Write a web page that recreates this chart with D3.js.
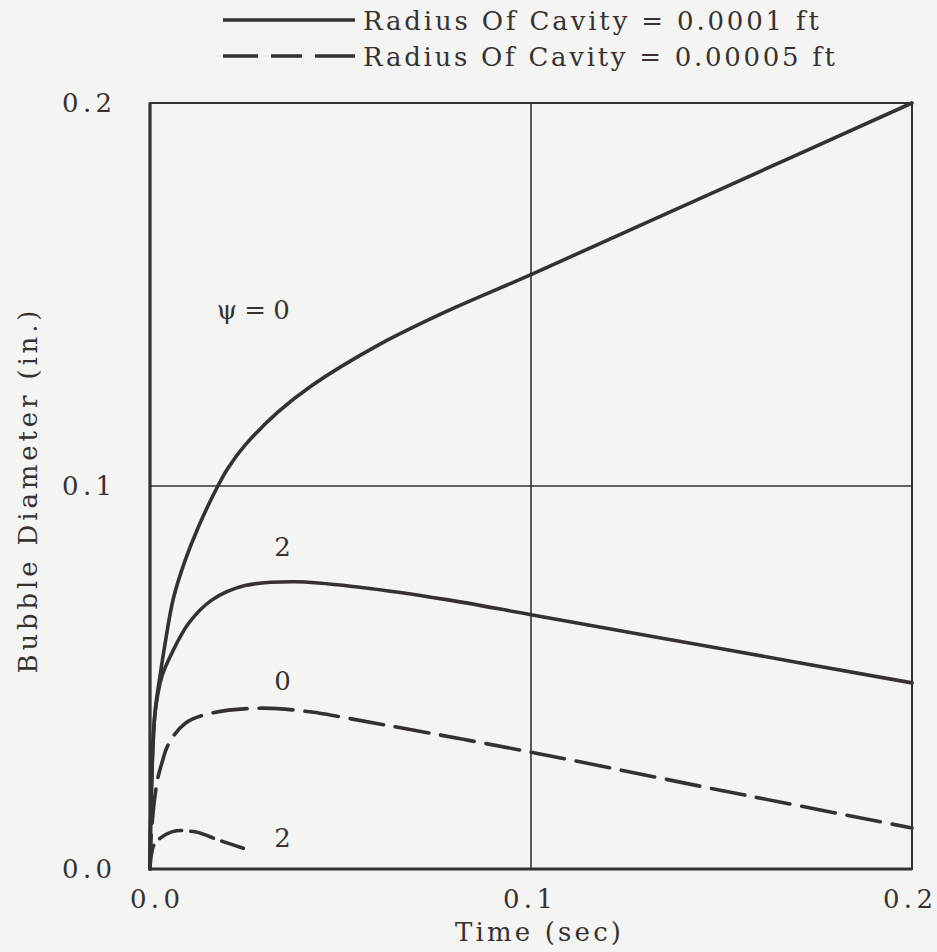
<!DOCTYPE html>
<html>
<head>
<meta charset="utf-8">
<script src="https://d3js.org/d3.v7.min.js"></script>
<style>
  body { margin: 0; background: #f4f4f2; }
  #chart text { font-family: "DejaVu Serif", serif; fill: #363232; font-size: 26px; }
</style>
</head>
<body>
<div id="chart"></div>
<script>
  // curves: time (sec) vs bubble diameter (in.)
  var timeA = [0, 0.0003, 0.0013, 0.0026, 0.0039, 0.0061, 0.0092, 0.0127, 0.0175, 0.0205, 0.0249, 0.0337, 0.0424, 0.0599, 0.0774, 0.1, 0.15, 0.2];
  var diaA  = [0, 0.018, 0.0407, 0.0502, 0.0585, 0.0705, 0.0805, 0.0893, 0.0994, 0.1047, 0.1106, 0.1194, 0.1262, 0.1368, 0.1454, 0.1552, 0.1776, 0.2];

  var timeB = [0, 0.0003, 0.0013, 0.0031, 0.0057, 0.0101, 0.0162, 0.0249, 0.038, 0.0555, 0.0774, 0.1, 0.15, 0.2];
  var diaB  = [0, 0.018, 0.0405, 0.0502, 0.0563, 0.0641, 0.0702, 0.0740, 0.075, 0.0735, 0.0704, 0.0664, 0.0575, 0.0486];

  var timeC = [0, 0.0004, 0.0018, 0.0031, 0.0048, 0.0092, 0.0162, 0.0293, 0.0424, 0.0512, 0.1, 0.15, 0.2];
  var diaC  = [0, 0.01, 0.0224, 0.0276, 0.0325, 0.038, 0.0407, 0.042, 0.041, 0.0395, 0.0305, 0.0205, 0.0107];

  var timeD = [0, 0.0004, 0.0013, 0.0057, 0.0118, 0.0179, 0.0245];
  var diaD  = [0, 0.004, 0.0067, 0.0097, 0.0097, 0.0076, 0.0054];

  var xTicks = [0, 0.1, 0.2];
  var yTicks = [0, 0.1, 0.2];
  var legendLabels = ["Radius Of Cavity = 0.0001 ft", "Radius Of Cavity = 0.00005 ft"];
  var curveLabels = [
    { t: 0.0271, d: 0.1436, text: "\u03c8 = 0", len: 73 },
    { t: 0.0348, d: 0.0818, text: "2" },
    { t: 0.0348, d: 0.0467, text: "0" },
    { t: 0.0348, d: 0.0057, text: "2" }
  ];

  var W = 937, H = 952;
  var margin = { top: 103, right: 25, bottom: 83, left: 150 };
  var width = W - margin.left - margin.right,
      height = H - margin.top - margin.bottom;
  var ink = "#353131";

  var svg = d3.select("#chart").append("svg")
      .attr("width", W).attr("height", H);
  svg.append("rect").attr("width", W).attr("height", H).attr("fill", "#f4f4f2");

  var g = svg.append("g")
      .attr("transform", "translate(" + margin.left + "," + margin.top + ")");

  var x = d3.scaleLinear().domain([0, 0.2]).range([0, width]);
  var y = d3.scaleLinear().domain([0, 0.2]).range([height, 0]);

  // grid lines
  g.selectAll(".vgrid").data([0.1]).enter().append("line")
      .attr("x1", x).attr("x2", x).attr("y1", 0).attr("y2", height)
      .attr("stroke", ink).attr("stroke-width", 1.6);
  g.selectAll(".hgrid").data([0.1]).enter().append("line")
      .attr("x1", 0).attr("x2", width).attr("y1", y).attr("y2", y)
      .attr("stroke", ink).attr("stroke-width", 1.6);

  // frame
  g.append("rect").attr("width", width).attr("height", height)
      .attr("fill", "none").attr("stroke", ink).attr("stroke-width", 2);
  g.append("line").attr("x1", 0).attr("x2", 0).attr("y1", 0).attr("y2", height)
      .attr("stroke", ink).attr("stroke-width", 3.2);
  g.append("line").attr("x1", 0).attr("x2", width).attr("y1", height).attr("y2", height)
      .attr("stroke", ink).attr("stroke-width", 3.2);

  // tick labels
  g.selectAll(".ytl").data(yTicks).enter().append("text")
      .attr("x", -38).attr("y", function(d) { return y(d) + 9; })
      .attr("text-anchor", "end")
      .attr("textLength", 50).attr("lengthAdjust", "spacing")
      .text(function(d) { return d3.format(".1f")(d); });
  g.selectAll(".xtl").data(xTicks).enter().append("text")
      .attr("x", function(d, i) { return x(d) + [5, -3, -4][i]; })
      .attr("y", height + 39)
      .attr("text-anchor", "middle")
      .attr("textLength", 50).attr("lengthAdjust", "spacing")
      .text(function(d) { return d3.format(".1f")(d); });

  // axis titles
  g.append("text")
      .attr("x", width / 2 + 7).attr("y", height + 72)
      .attr("text-anchor", "middle")
      .attr("textLength", 166).attr("lengthAdjust", "spacing")
      .text("Time (sec)");
  g.append("text")
      .attr("transform", "translate(" + (-113) + "," + (492 - margin.top) + ") rotate(-90)")
      .attr("text-anchor", "middle")
      .attr("textLength", 363).attr("lengthAdjust", "spacing")
      .text("Bubble Diameter (in.)");

  // curves
  var line = d3.line()
      .x(function(d) { return x(d[0]); })
      .y(function(d) { return y(d[1]); })
      .curve(d3.curveCatmullRom.alpha(0.5));

  var curves = [
    { t: timeA, d: diaA, dash: null },
    { t: timeB, d: diaB, dash: null },
    { t: timeC, d: diaC, dash: "34,12" },
    { t: timeD, d: diaD, dash: "24,9" }
  ];
  curves.forEach(function(c) {
    var pts = c.t.map(function(t, i) { return [t, c.d[i]]; });
    g.append("path").datum(pts)
        .attr("d", line)
        .attr("fill", "none")
        .attr("stroke", ink)
        .attr("stroke-width", 3.6)
        .attr("stroke-linecap", "round")
        .attr("stroke-dasharray", c.dash);
  });

  g.selectAll(".curve-label").data(curveLabels).enter().append("text")
      .attr("x", function(d) { return x(d.t); })
      .attr("y", function(d) { return y(d.d); })
      .attr("text-anchor", "middle")
      .attr("textLength", function(d) { return d.len || null; })
      .attr("lengthAdjust", "spacing")
      .text(function(d) { return d.text; });

  // legend
  var legend = svg.append("g");
  var legendRows = [
    { y: 20, dash: null, label: legendLabels[0], len: 456 },
    { y: 56, dash: "35,13,31,13,40", label: legendLabels[1], len: 472 }
  ];
  legendRows.forEach(function(r) {
    legend.append("line")
        .attr("x1", 223).attr("x2", 355).attr("y1", r.y).attr("y2", r.y)
        .attr("stroke", ink).attr("stroke-width", 3.6)
        .attr("stroke-dasharray", r.dash);
    legend.append("text")
        .attr("x", 363).attr("y", r.y + 10)
        .attr("textLength", r.len)
        .attr("lengthAdjust", "spacing")
        .text(r.label);
  });
</script>
</body>
</html>
